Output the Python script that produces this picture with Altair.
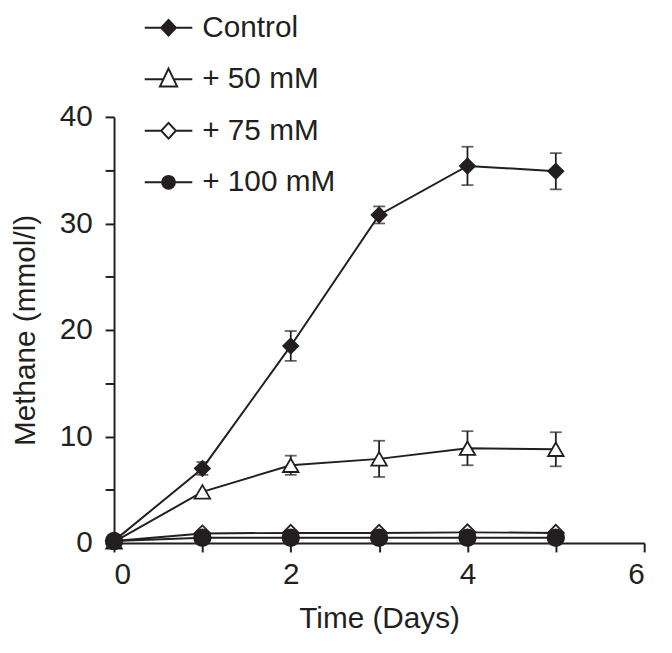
import altair as alt
import pandas as pd

days = [0, 1, 2, 3, 4, 5]
series_names = ["Control", "+ 50 mM", "+ 75 mM", "+ 100 mM"]

control = [0.2, 7.0, 18.5, 30.8, 35.4, 34.9]
control_err = [0.0, 0.6, 1.4, 0.8, 1.8, 1.7]
mm50 = [0.1, 4.8, 7.3, 7.9, 8.9, 8.8]
mm50_err = [0.0, 0.0, 0.9, 1.7, 1.6, 1.6]
mm75 = [0.2, 0.9, 0.95, 0.95, 1.0, 0.95]
mm100 = [0.2, 0.5, 0.5, 0.5, 0.5, 0.5]

values = [control, mm50, mm75, mm100]
errors = [control_err, mm50_err, [0] * 6, [0] * 6]

rows = []
for name, vals, errs in zip(series_names, values, errors):
    for d, v, e in zip(days, vals, errs):
        rows.append({"day": d, "series": name, "value": v, "lo": v - e, "hi": v + e, "err": e})
df = pd.DataFrame(rows)

INK = "#231f20"
FONT = "Liberation Sans"

x = alt.X("day:Q", scale=alt.Scale(domain=[0, 6], nice=False),
          axis=alt.Axis(values=[0, 1, 2, 3, 4, 5, 6], format="d",
                        labelExpr="datum.value % 2 == 0 ? datum.label : ''",
                        title="Time (Days)"))
y = alt.Y("value:Q", scale=alt.Scale(domain=[0, 40], nice=False),
          axis=alt.Axis(values=[0, 5, 10, 15, 20, 25, 30, 35, 40], format="d",
                        labelExpr="datum.value % 10 == 0 ? datum.label : ''",
                        title="Methane (mmol/l)"))

base = alt.Chart(df)

lines = base.mark_line(color=INK, strokeWidth=2).encode(x=x, y=y, detail="series:N")

err_df_filter = "datum.err > 0"
bars = base.transform_filter(err_df_filter).mark_rule(color=INK, strokeWidth=1.8).encode(
    x="day:Q", y="lo:Q", y2="hi:Q")
caps_lo = base.transform_filter(err_df_filter).mark_tick(
    color=INK, orient="horizontal", size=12, thickness=1.8).encode(x="day:Q", y="lo:Q")
caps_hi = base.transform_filter(err_df_filter).mark_tick(
    color=INK, orient="horizontal", size=12, thickness=1.8).encode(x="day:Q", y="hi:Q")

marker_shapes = ["diamond", "triangle-up", "diamond", "circle"]
marker_fills = [INK, "white", "white", INK]
marker_sizes = [230, 280, 200, 170]

points = base.mark_point(filled=False, stroke=INK, strokeWidth=1.8, opacity=1).encode(
    x="day:Q", y="value:Q",
    shape=alt.Shape("series:N", scale=alt.Scale(domain=series_names, range=marker_shapes), legend=None),
    fill=alt.Fill("series:N", scale=alt.Scale(domain=series_names, range=marker_fills), legend=None),
    size=alt.Size("series:N", scale=alt.Scale(domain=series_names, range=marker_sizes), legend=None),
)

# legend symbols: line segment with marker in the middle
leg_diamond = "M-1,0L-0.31,0M0.31,0L1,0M0,-0.33L0.31,0L0,0.33L-0.31,0Z"
leg_triangle = "M-1,0L-0.22,0M0.22,0L1,0M0,-0.45L0.36,0.3L-0.36,0.3Z"
leg_circle = "M-1,0L-0.27,0M0.27,0L1,0M-0.27,0A0.27,0.27 0 1,0 0.27,0A0.27,0.27 0 1,0 -0.27,0Z"
legend_shapes = [leg_diamond, leg_triangle, leg_diamond, leg_circle]

legend_def = alt.Legend(title=None, orient="none", legendX=30, legendY=-115,
                        labelFont=FONT, labelFontSize=30, labelColor=INK,
                        labelOffset=9, rowPadding=12, padding=0,
                        symbolSize=2304, symbolStrokeWidth=2)

legend_layer = base.transform_filter("false").mark_point(
    filled=False, strokeWidth=2, size=2304, opacity=1).encode(
    x="day:Q", y="value:Q",
    shape=alt.Shape("series:N", scale=alt.Scale(domain=series_names, range=legend_shapes),
                    legend=legend_def, sort=series_names),
    fill=alt.Fill("series:N", scale=alt.Scale(domain=series_names, range=marker_fills),
                  legend=legend_def, sort=series_names),
    stroke=alt.Stroke("series:N", scale=alt.Scale(domain=series_names, range=[INK] * 4),
                      legend=legend_def, sort=series_names),
)

chart = alt.layer(lines, bars, caps_lo, caps_hi, points, legend_layer).resolve_scale(
    shape="independent", fill="independent", size="independent", stroke="independent"
).properties(
    width=535, height=430,
    autosize=alt.AutoSizeParams(type="none"),
    padding={"left": 107, "top": 107, "right": 20, "bottom": 100},
).configure_view(stroke=None).configure_axis(
    domainColor=INK, domainWidth=2, tickColor=INK, tickWidth=2, tickSize=9,
    labelFont=FONT, labelFontSize=30, labelColor=INK,
    titleFont=FONT, titleFontSize=30, titleColor=INK, titleFontWeight="normal",
    grid=False,
).configure_axisY(titlePadding=19, labelPadding=13).configure_axisX(titlePadding=14, labelPadding=8)

chart.save("out.html", embed_options={"renderer": "svg", "actions": False})
